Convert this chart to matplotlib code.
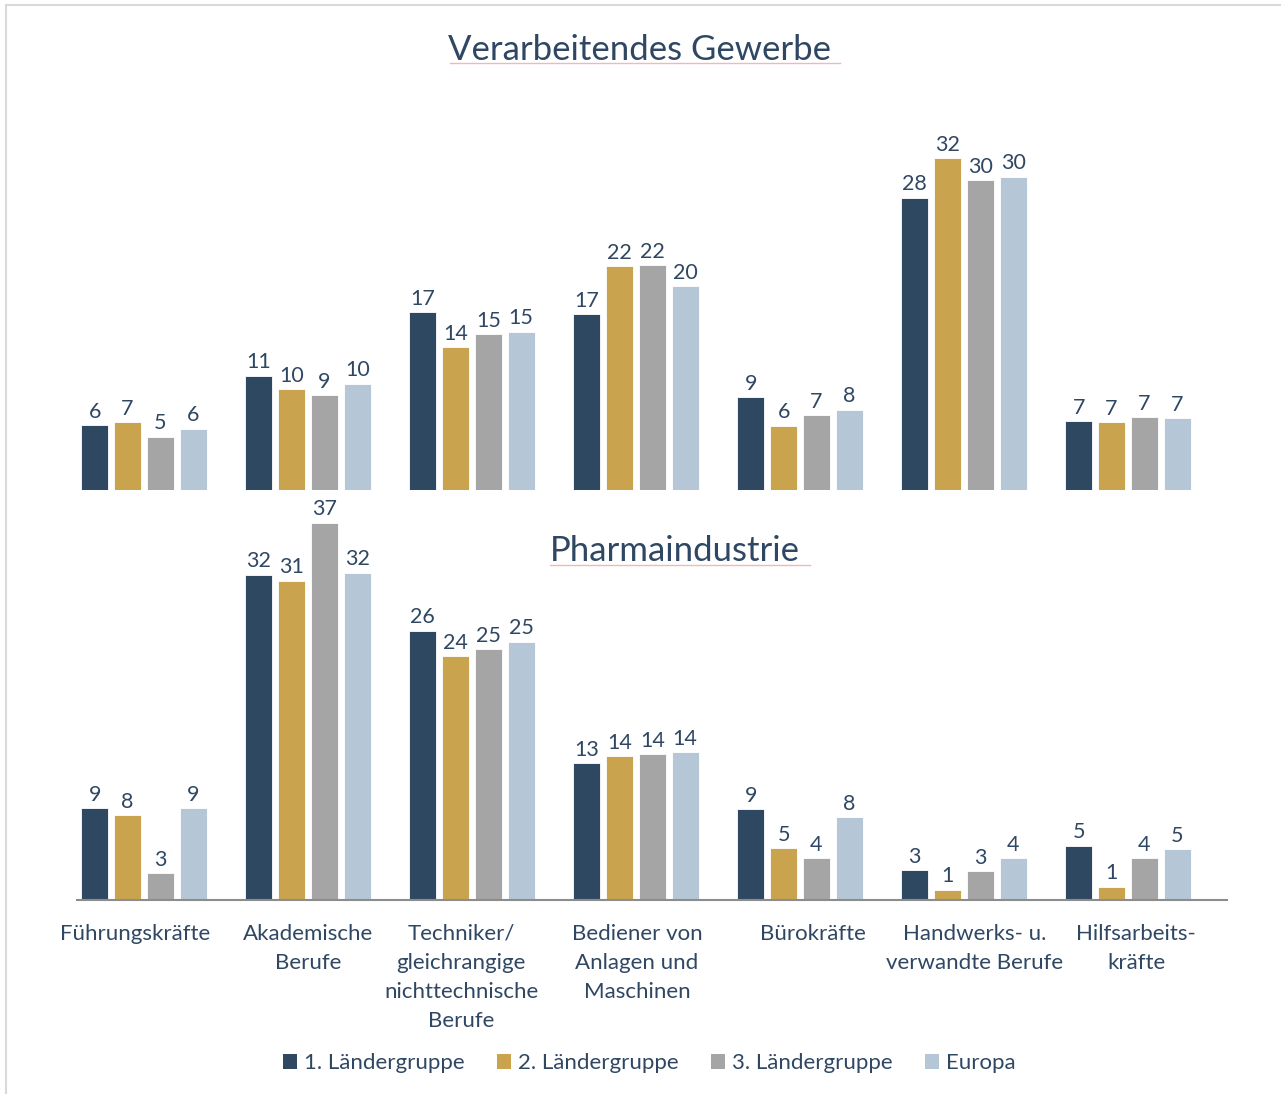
import matplotlib.pyplot as plt
import matplotlib.transforms as mtransforms
import numpy as np
from matplotlib.patches import Patch
from matplotlib.lines import Line2D

plt.rcParams['font.family'] = ['Lato', 'DejaVu Sans']

categories = ["Führungskräfte", "Akademische\nBerufe", "Techniker/\ngleichrangige\nnichttechnische\nBerufe",
              "Bediener von\nAnlagen und\nMaschinen", "Bürokräfte", "Handwerks- u.\nverwandte Berufe",
              "Hilfsarbeits-\nkräfte"]
series = ["1. Ländergruppe", "2. Ländergruppe", "3. Ländergruppe", "Europa"]
colors = ["#2E4862", "#C9A34E", "#A5A5A5", "#B5C7D6"]

# Verarbeitendes Gewerbe: bar heights, plus the printed labels
verarb = {
    "1. Ländergruppe": [6.25, 11.0, 17.1, 16.9, 8.9, 28.1, 6.6],
    "2. Ländergruppe": [6.5, 9.7, 13.75, 21.5, 6.2, 31.9, 6.5],
    "3. Ländergruppe": [5.1, 9.1, 15.0, 21.6, 7.2, 29.8, 7.0],
    "Europa": [5.9, 10.2, 15.2, 19.6, 7.7, 30.1, 6.9],
}
verarb_lbl = {
    "1. Ländergruppe": [6, 11, 17, 17, 9, 28, 7],
    "2. Ländergruppe": [7, 10, 14, 22, 6, 32, 7],
    "3. Ländergruppe": [5, 9, 15, 22, 7, 30, 7],
    "Europa": [6, 10, 15, 20, 8, 30, 7],
}
# Pharmaindustrie
pharma = {
    "1. Ländergruppe": [9.0, 31.9, 26.4, 13.4, 8.9, 2.9, 5.3],
    "2. Ländergruppe": [8.3, 31.3, 23.9, 14.1, 5.1, 1.0, 1.3],
    "3. Ländergruppe": [2.6, 37.0, 24.6, 14.3, 4.1, 2.8, 4.1],
    "Europa": [9.0, 32.1, 25.3, 14.5, 8.1, 4.1, 5.0],
}
pharma_lbl = {
    "1. Ländergruppe": [9, 32, 26, 13, 9, 3, 5],
    "2. Ländergruppe": [8, 31, 24, 14, 5, 1, 1],
    "3. Ländergruppe": [3, 37, 25, 14, 4, 3, 4],
    "Europa": [9, 32, 25, 14, 8, 4, 5],
}

text_col = "#2F4763"
W, H = 1281, 1094
fig = plt.figure(figsize=(W / 100, H / 100), dpi=100)

x = np.arange(len(categories))
bw = 0.165
step = 0.2
xl = (-(144 - 77) / 164, (1227 - 144) / 164)


def draw(ax, data, labels, ymax):
    for i, s in enumerate(series):
        pos = x + (i - 1.5) * step
        bars = ax.bar(pos, data[s], width=bw, color=colors[i], edgecolor="white", linewidth=0.6, zorder=2)
        for b, v, t in zip(bars, data[s], labels[s]):
            ax.annotate(str(t), (b.get_x() + b.get_width() / 2, v), xytext=(0, 2.5),
                        textcoords="offset points", ha="center", va="bottom", fontsize=15.5,
                        color=text_col, annotation_clip=False)
    ax.set_xlim(*xl)
    ax.set_ylim(0, ymax)
    ax.set_yticks([])
    for sp in ["top", "right", "left"]:
        ax.spines[sp].set_visible(False)
    ax.patch.set_visible(False)


ax1 = fig.add_axes([77 / W, (H - 490) / H, 1150 / W, 364 / H])
draw(ax1, verarb, verarb_lbl, 35)
ax1.spines["bottom"].set_visible(False)
ax1.set_xticks([])

ax2 = fig.add_axes([77 / W, (H - 900) / H, 1150 / W, 408 / H])
draw(ax2, pharma, pharma_lbl, 40)
ax2.spines["bottom"].set_color("#8C8C8C")
ax2.spines["bottom"].set_linewidth(1.5)
ax2.set_xticks(x)
ax2.set_xticklabels(categories, fontsize=16, color=text_col, linespacing=1.58, va="top")
ax2.tick_params(axis="x", length=0, pad=17)
# small horizontal nudges of the category labels (pixels)
nudge = [-9, 0, -11, 1, 13, 11, 8]
for lab, dx in zip(ax2.get_xticklabels(), nudge):
    lab.set_transform(lab.get_transform() + mtransforms.ScaledTranslation(dx / 100, 0, fig.dpi_scale_trans))

# titles
fig.text(640 / W, 1 - 50 / H, "Verarbeitendes Gewerbe", ha="center", va="center", fontsize=25, color=text_col)
fig.text(675 / W, 1 - 551 / H, "Pharmaindustrie", ha="center", va="center", fontsize=25, color=text_col)
fig.add_artist(Line2D([450 / W, 840 / W], [1 - 63 / H, 1 - 63 / H], color="#F2B8B8", lw=1))
fig.add_artist(Line2D([550 / W, 810 / W], [1 - 565 / H, 1 - 565 / H], color="#F2B8B8", lw=1))

# frame
fig.add_artist(Line2D([6 / W, 6 / W], [0, 1 - 5 / H], color="#D9D9D9", lw=1.5))
fig.add_artist(Line2D([6 / W, 1], [1 - 5 / H, 1 - 5 / H], color="#D9D9D9", lw=1.5))

handles = [Patch(facecolor=c, edgecolor="none") for c in colors]
fig.legend(handles, series, loc="center", bbox_to_anchor=(649 / W, 1 - 1063 / H), ncol=4, frameon=False,
           fontsize=16, handlelength=0.65, handleheight=0.65, handletextpad=0.3, columnspacing=1.45,
           labelcolor=text_col)

fig.savefig("out.png", dpi=100)
